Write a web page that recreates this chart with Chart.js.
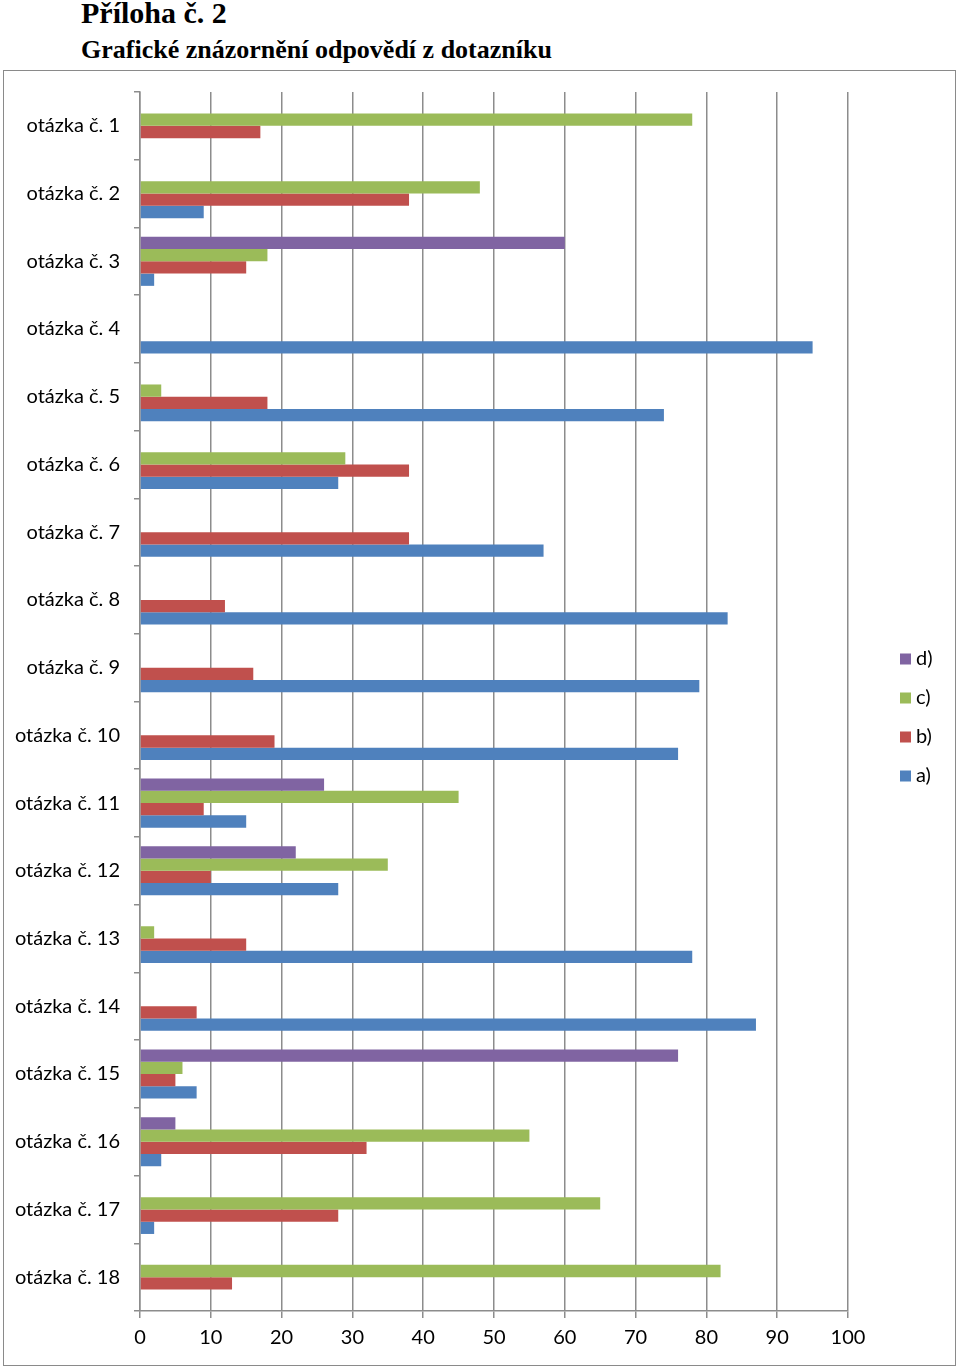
<!DOCTYPE html>
<html><head><meta charset="utf-8">
<script src="https://cdn.jsdelivr.net/npm/chart.js@4"></script>
<style>
body{margin:0;background:#fff;width:960px;height:1370px;position:relative;overflow:hidden}
.t1{position:absolute;left:81px;top:-5px;font:bold 30px "Liberation Serif",serif;color:#000;white-space:nowrap;line-height:36px}
.t2{position:absolute;left:81px;top:34px;font:bold 26px "Liberation Serif",serif;color:#000;white-space:nowrap;line-height:32px}
.box{position:absolute;left:3px;top:70px;width:951px;height:1294px;border:1px solid #8a8a8a;box-sizing:content-box}
.box canvas{position:absolute;left:0;top:0}
</style></head><body>
<div class="t1">Příloha č. 2</div>
<div class="t2">Grafické znázornění odpovědí z dotazníku</div>
<div class="box"><canvas id="c" width="951" height="1294"></canvas></div>
<script>
const categories = ["otázka č. 1","otázka č. 2","otázka č. 3","otázka č. 4","otázka č. 5","otázka č. 6","otázka č. 7","otázka č. 8","otázka č. 9","otázka č. 10","otázka č. 11","otázka č. 12","otázka č. 13","otázka č. 14","otázka č. 15","otázka č. 16","otázka č. 17","otázka č. 18"];
const seriesA = [null, 9, 2, 95, 74, 28, 57, 83, 79, 76, 15, 28, 78, 87, 8, 3, 2, null];
const seriesB = [17, 38, 15, null, 18, 38, 38, 12, 16, 19, 9, 10, 15, 8, 5, 32, 28, 13];
const seriesC = [78, 48, 18, null, 3, 29, null, null, null, null, 45, 35, 2, null, 6, 55, 65, 82];
const seriesD = [null, null, 60, null, null, null, null, null, null, null, 26, 22, null, null, 76, 5, null, null];
const seriesNames = ["d)", "c)", "b)", "a)"];
const xTicks = [0,10,20,30,40,50,60,70,80,90,100];

const colors = {"a)":"#4F81BD","b)":"#C0504D","c)":"#9BBB59","d)":"#8064A2"};
const values = {"a)":seriesA,"b)":seriesB,"c)":seriesC,"d)":seriesD};
const FONT = "Lato";

const legendPlugin = {
  id:'sideLegend',
  afterDraw(chart){
    const ctx = chart.ctx;
    ctx.save();
    ctx.font = '20px ' + FONT;
    ctx.textBaseline = 'middle';
    chart.data.datasets.forEach((ds,i)=>{
      const y = 588 + i*39;
      ctx.fillStyle = ds.backgroundColor;
      ctx.fillRect(896, y-5.5, 11, 11);
      ctx.fillStyle = '#000';
      ctx.fillText(ds.label, 912, y);
    });
    ctx.restore();
  }
};

new Chart(document.getElementById('c'), {
  type:'bar',
  data:{
    labels: categories,
    datasets: seriesNames.map(n=>({label:n, data:values[n], backgroundColor:colors[n], borderWidth:0, categoryPercentage:0.725, barPercentage:1}))
  },
  options:{
    indexAxis:'y',
    responsive:false,
    animation:false,
    layout:{padding:{left:0,top:21,right:107,bottom:0}},
    plugins:{legend:{display:false},tooltip:{enabled:false}},
    scales:{
      x:{
        min:0,max:100,
        afterBuildTicks(s){ s.ticks = xTicks.map(v=>({value:v})); },
        afterFit(s){ s.height = 54; },
        grid:{color:'#8c8c8c',lineWidth:1.5,tickLength:7,drawTicks:true},
        border:{color:'#8c8c8c',width:1.5},
        ticks:{font:{family:FONT,size:20},color:'#000',padding:8,maxRotation:0}
      },
      y:{
        afterFit(s){ s.width = 136; s.paddingTop = 0; s.paddingBottom = 0; },
        grid:{offset:true,drawOnChartArea:false,color:'#8c8c8c',lineWidth:1.5,tickLength:6},
        border:{color:'#8c8c8c',width:1.5},
        ticks:{font:{family:FONT,size:20},color:'#000',padding:14,autoSkip:false}
      }
    }
  },
  plugins:[legendPlugin]
});
</script>
</body></html>
